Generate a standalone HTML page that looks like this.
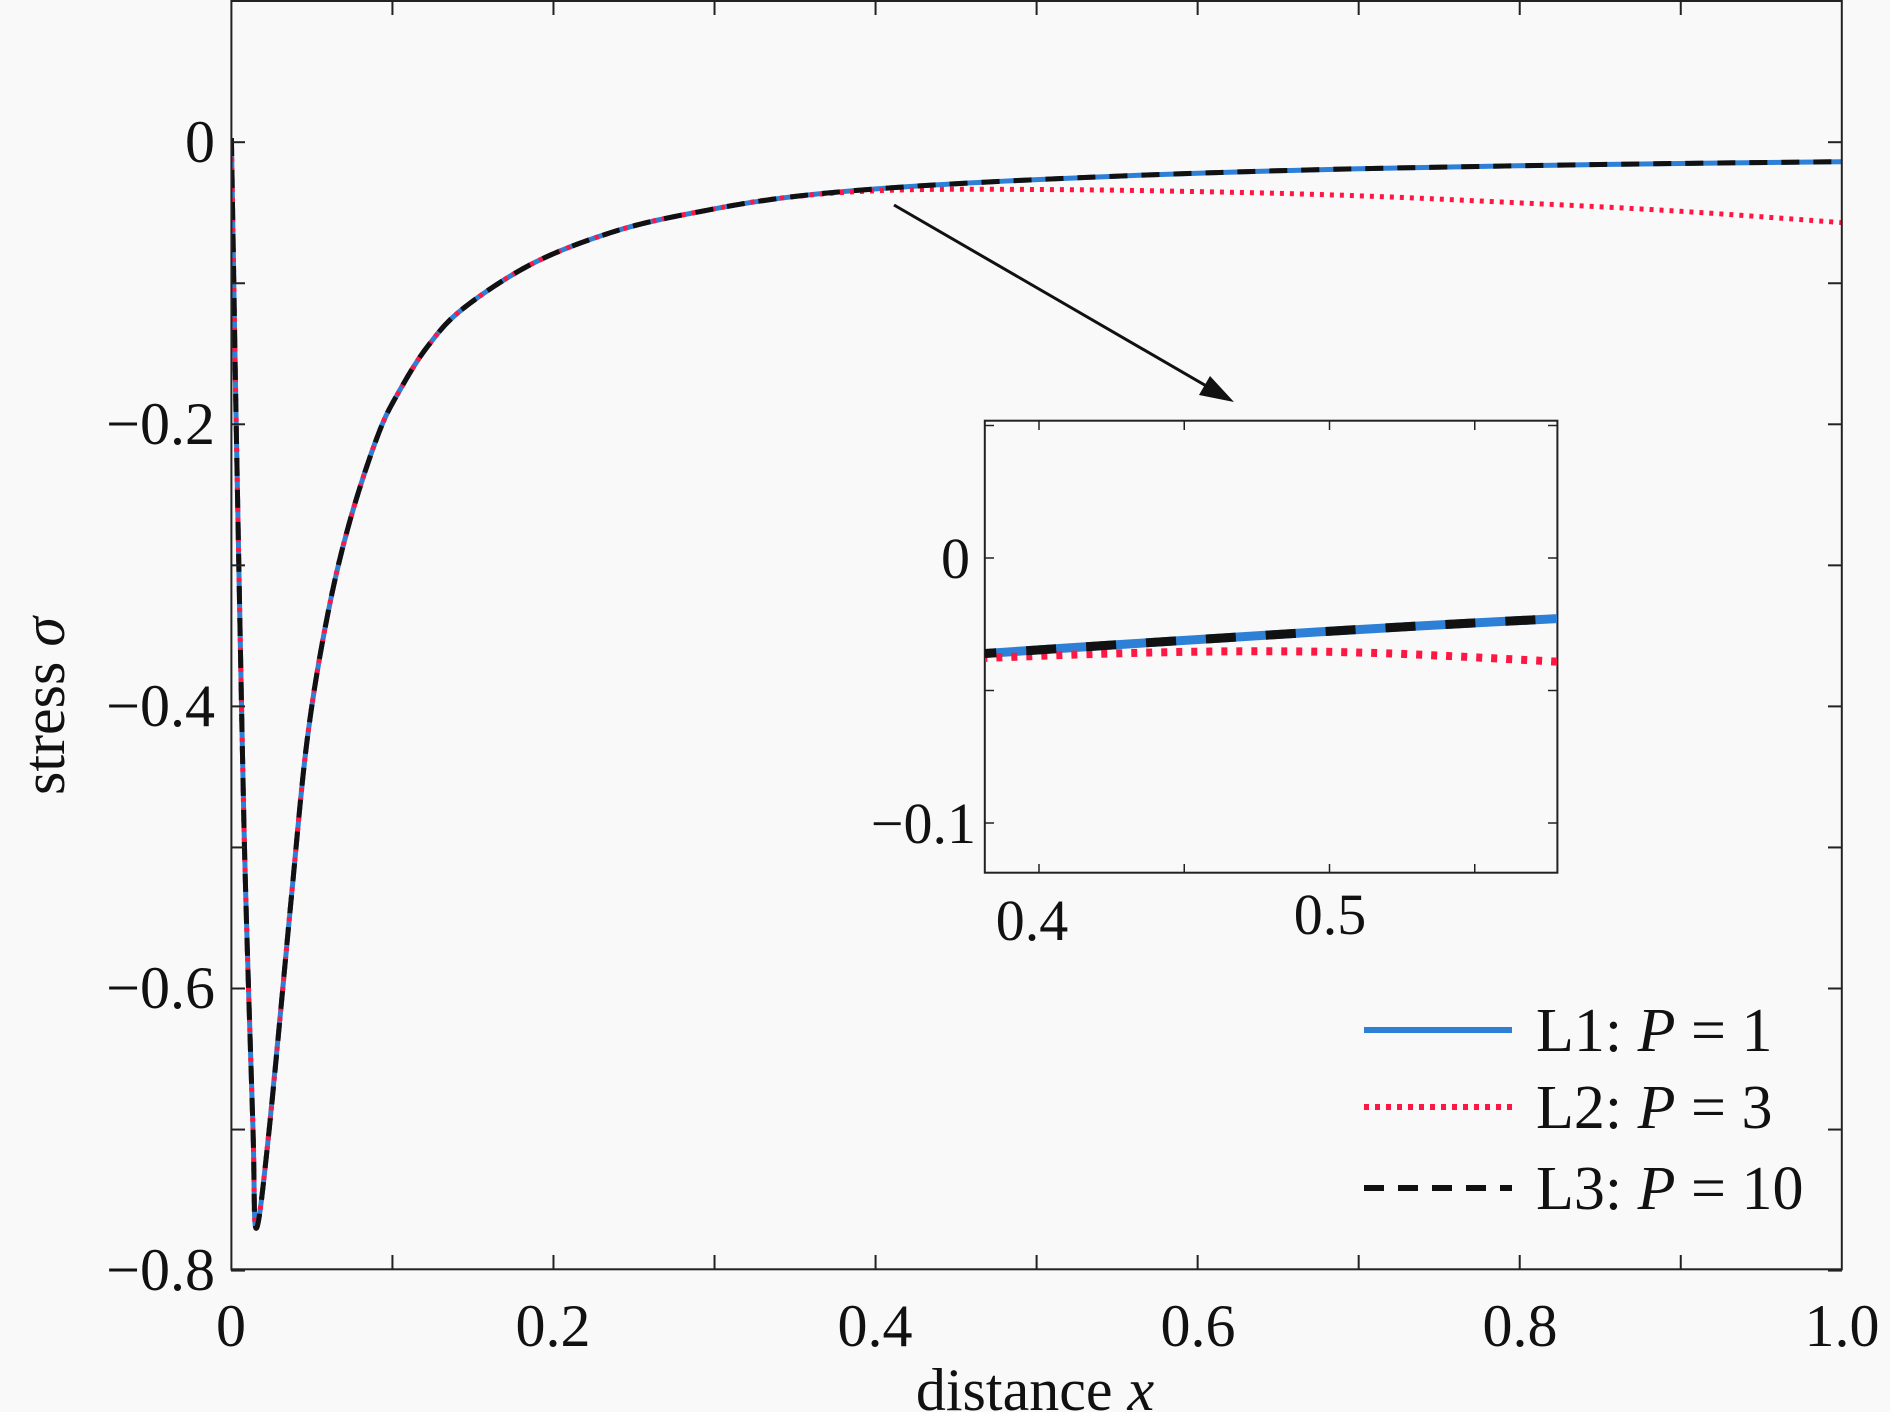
<!DOCTYPE html>
<html><head><meta charset="utf-8"><style>
html,body{margin:0;padding:0;background:#f9f9f9}
svg{display:block}
text{font-family:"Liberation Serif",serif;fill:#111}
</style></head><body>
<svg id="s" width="1890" height="1412" viewBox="0 0 1890 1412" xmlns="http://www.w3.org/2000/svg">
<rect width="1890" height="1412" fill="#f9f9f9"/>
<defs>
<clipPath id="cm"><rect x="231" y="0" width="1611" height="1270"/></clipPath>
<clipPath id="ci"><rect x="985" y="421" width="572" height="452"/></clipPath>
</defs>
<g id="main" clip-path="url(#cm)"></g>
<rect x="231.4" y="1" width="1610.4" height="1268.3" fill="none" stroke="#222" stroke-width="2"/>
<g id="ticks" stroke="#222" stroke-width="2"></g>
<g font-size="60">
<text x="231" y="1346" text-anchor="middle">0</text>
<text x="553" y="1346" text-anchor="middle">0.2</text>
<text x="875" y="1346" text-anchor="middle">0.4</text>
<text x="1198" y="1346" text-anchor="middle">0.6</text>
<text x="1520" y="1346" text-anchor="middle">0.8</text>
<text x="1842" y="1346" text-anchor="middle">1.0</text>
<text x="215" y="162" text-anchor="end">0</text>
<text x="215" y="444" text-anchor="end">−0.2</text>
<text x="215" y="726" text-anchor="end">−0.4</text>
<text x="215" y="1008" text-anchor="end">−0.6</text>
<text x="215" y="1290" text-anchor="end">−0.8</text>
<text x="1035" y="1410" text-anchor="middle">distance <tspan font-style="italic">x</tspan></text>
<text transform="translate(64,706) rotate(-90)" text-anchor="middle">stress <tspan font-style="italic">σ</tspan></text>
</g>
<line x1="894" y1="205" x2="1215" y2="391" stroke="#111" stroke-width="3"/>
<polygon points="1234,402 1199,395 1210,376" fill="#111"/>
<rect x="984.8" y="420.7" width="572.6" height="452" fill="#f9f9f9" stroke="#222" stroke-width="2"/>
<g id="inset" clip-path="url(#ci)"></g>
<g id="iticks" stroke="#222" stroke-width="1.5"></g>
<g font-size="58">
<text x="1032" y="940" text-anchor="middle">0.4</text>
<text x="1330" y="934" text-anchor="middle">0.5</text>
<text x="970" y="578" text-anchor="end">0</text>
<text x="976" y="843" text-anchor="end">−0.1</text>
</g>
<g stroke-width="6" fill="none">
<line x1="1364" y1="1030" x2="1512" y2="1030" stroke="#2e7fd6"/>
<line x1="1364" y1="1107" x2="1512" y2="1107" stroke="#ff1744" stroke-dasharray="5,6"/>
<line x1="1364" y1="1188" x2="1512" y2="1188" stroke="#111" stroke-dasharray="20,14"/>
</g>
<g font-size="62">
<text x="1536" y="1051">L1: <tspan font-style="italic">P</tspan> = 1</text>
<text x="1536" y="1128">L2: <tspan font-style="italic">P</tspan> = 3</text>
<text x="1536" y="1209">L3: <tspan font-style="italic">P</tspan> = 10</text>
</g>
</svg>
<script>
const NS="http://www.w3.org/2000/svg";
function cr(pts){let d="M"+pts[0][0].toFixed(1)+","+pts[0][1].toFixed(1);
for(let i=0;i<pts.length-1;i++){const p0=pts[i-1]||pts[i],p1=pts[i],p2=pts[i+1],p3=pts[i+2]||p2;
const c1=[p1[0]+(p2[0]-p0[0])/6,p1[1]+(p2[1]-p0[1])/6],c2=[p2[0]-(p3[0]-p1[0])/6,p2[1]-(p3[1]-p1[1])/6];
d+=" C"+c1.map(v=>v.toFixed(1))+" "+c2.map(v=>v.toFixed(1))+" "+p2.map(v=>v.toFixed(1));}return d;}
function path(g,d,col,w,dash){const p=document.createElementNS(NS,"path");p.setAttribute("d",d);p.setAttribute("fill","none");p.setAttribute("stroke",col);p.setAttribute("stroke-width",w);if(dash)p.setAttribute("stroke-dasharray",dash);p.setAttribute("stroke-linejoin","round");document.getElementById(g).appendChild(p);}
const X=x=>231.4+x*1610.4,Y=y=>142.2-y*1410.5;
const base=[[0,0.003],[0.0015,-0.1],[0.003,-0.2],[0.0067,-0.424],[0.009,-0.538],[0.0134,-0.70],[0.0154,-0.77],[0.0235,-0.70],[0.037,-0.538],[0.047,-0.424],[0.0594,-0.337],[0.0732,-0.270],[0.0912,-0.207],[0.105,-0.175],[0.1217,-0.145],[0.1438,-0.118],[0.1883,-0.0853],[0.241,-0.0622],[0.2936,-0.0486],[0.346,-0.039]];
const bl=base.concat([[0.41,-0.0323],[0.5,-0.0265],[0.6,-0.022],[0.7,-0.0188],[0.85,-0.0158],[1,-0.0138]]);
const rd=base.concat([[0.41,-0.034],[0.5,-0.0335],[0.6,-0.035],[0.7,-0.038],[0.8,-0.043],[0.9,-0.049],[1,-0.057]]);
const m=a=>a.map(p=>[X(p[0]),Y(p[1])]);
path("main",cr(m(bl)),"#2e7fd6",5);
path("main",cr(m(rd)),"#ff1744",5,"4,6");
path("main",cr(m(bl)),"#111",5,"18,14");
const Xi=x=>1039+(x-0.4)*2905,Yi=y=>558-y*2650;
const mi=a=>a.map(p=>[Xi(p[0]),Yi(p[1])]);
const ib=[[0.375,-0.0365],[0.43,-0.0325],[0.48,-0.029],[0.53,-0.0257],[0.585,-0.0225]];
const ir=[[0.375,-0.038],[0.42,-0.0362],[0.47,-0.0352],[0.52,-0.036],[0.585,-0.0395]];
path("inset",cr(mi(ib)),"#2e7fd6",9);
path("inset",cr(mi(ir)),"#ff1744",8,"6,9");
path("inset",cr(mi(ib)),"#111",9,"30,30");
const t=document.getElementById("ticks");
function ln(g,x1,y1,x2,y2){const l=document.createElementNS(NS,"line");l.setAttribute("x1",x1);l.setAttribute("y1",y1);l.setAttribute("x2",x2);l.setAttribute("y2",y2);g.appendChild(l);}
for(let i=1;i<10;i++){const x=X(i/10);ln(t,x,1269,x,1255);ln(t,x,1,x,15);}
for(let i=1;i<=8;i++){const y=Y(-i/10);ln(t,231,y,245,y);ln(t,1842,y,1828,y);}
ln(t,231,Y(0),245,Y(0));ln(t,1842,Y(0),1828,Y(0));
const it=document.getElementById("iticks");
[0.4,0.45,0.5,0.55].forEach(v=>{const x=Xi(v);ln(it,x,873,x,864);ln(it,x,421,x,430);});
[0.05,0,-0.05,-0.1].forEach(v=>{const y=Yi(v);ln(it,985,y,994,y);ln(it,1557,y,1548,y);});
</script>
</body></html>
